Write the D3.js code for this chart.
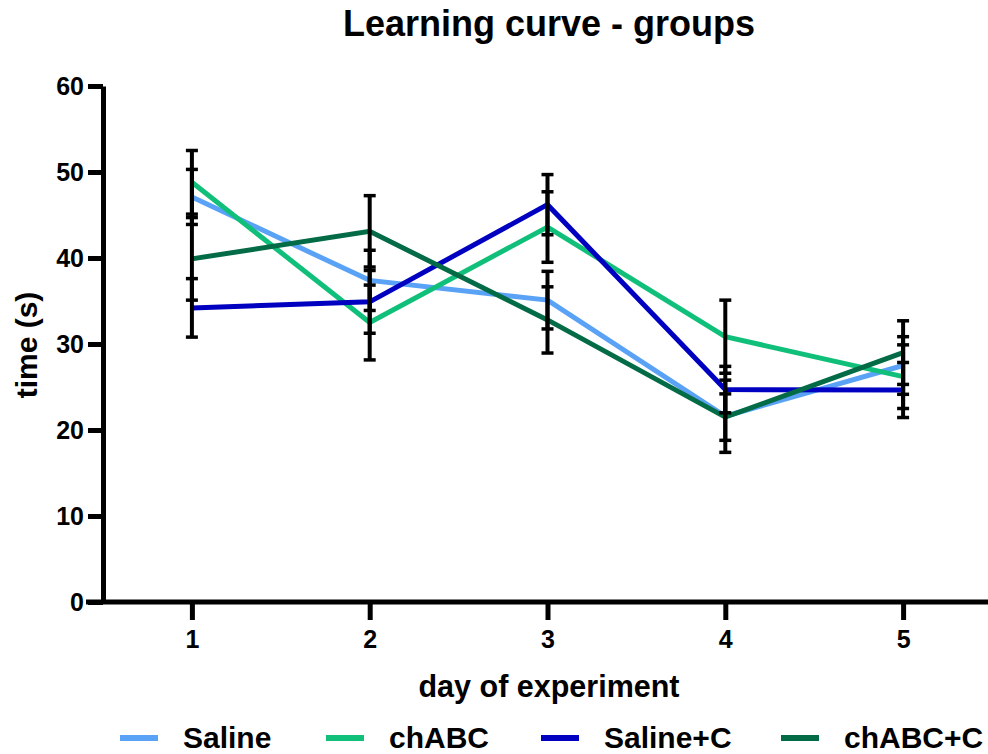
<!DOCTYPE html>
<html>
<head>
<meta charset="utf-8">
<script src="https://cdn.jsdelivr.net/npm/d3@7"></script>
<style>
body { margin: 0; background: #fff; }
text { font-family: "Liberation Sans", Arial, sans-serif; font-weight: bold; }
</style>
</head>
<body>
<div id="vis"></div>
<script>
var w = 988;
var h = 754;

// data
var days = [1, 2, 3, 4, 5];
var groups = ["Saline", "chABC", "Saline+C", "chABC+C"];
var colors = ["#5aa2f5", "#10c07a", "#0000c0", "#036b45"];
var salineMean = [47.1, 37.4, 35.1, 21.6, 27.5];
var salineSem = [3.2, 3.5, 3.35, 4.2, 3.35];
var chabcMean = [48.8, 32.5, 43.6, 30.85, 26.2];
var chabcSem = [3.7, 4.35, 4.1, 4.25, 3.7];
var salineCMean = [34.2, 34.9, 46.2, 24.7, 24.65];
var salineCSem = [3.4, 3.65, 3.5, 2.7, 3.2];
var chabcCMean = [39.9, 43.1, 32.8, 21.5, 29.0];
var chabcCSem = [4.8, 4.15, 3.85, 2.7, 3.7];
var yTicks = [0, 10, 20, 30, 40, 50, 60];

var means = [salineMean, chabcMean, salineCMean, chabcCMean];
var sems = [salineSem, chabcSem, salineCSem, chabcCSem];

var svg = d3.select("#vis")
    .append("svg")
    .attr("width", w)
    .attr("height", h);

var x = d3.scaleLinear().domain([0.5, 5.5]).range([103, 992]);
var y = d3.scaleLinear().domain([0, 60]).range([602, 86]);

// title
svg.append("text")
    .text("Learning curve - groups")
    .attr("x", 549)
    .attr("y", 36)
    .attr("text-anchor", "middle")
    .style("font-size", "36px");

// y axis
var yAxis = svg.append("g")
    .attr("transform", "translate(103,0)")
    .call(d3.axisLeft(y).tickValues(yTicks).tickSize(15).tickPadding(4).tickSizeOuter(0));
yAxis.select(".domain").attr("stroke-width", 5).attr("stroke", "#000");
yAxis.selectAll(".tick line").attr("stroke-width", 5).attr("stroke", "#000");
yAxis.selectAll(".tick text").style("font-size", "25px").attr("fill", "#000");

// x axis
var xAxis = svg.append("g")
    .attr("transform", "translate(0,602)")
    .call(d3.axisBottom(x).tickValues(days).tickSize(18).tickPadding(10).tickSizeOuter(0).tickFormat(d3.format("d")));
xAxis.select(".domain").attr("d", "M86,0H988").attr("stroke-width", 5).attr("stroke", "#000");
xAxis.selectAll(".tick line").attr("stroke-width", 5).attr("stroke", "#000");
xAxis.selectAll(".tick text").style("font-size", "25px").attr("fill", "#000");

// axis labels
svg.append("text")
    .text("day of experiment")
    .attr("x", 549)
    .attr("y", 697)
    .attr("text-anchor", "middle")
    .style("font-size", "30.5px");

svg.append("text")
    .text("time (s)")
    .attr("transform", "translate(37,345) rotate(-90)")
    .attr("text-anchor", "middle")
    .style("font-size", "30px");

// lines
var line = d3.line()
    .x(function(d, i) { return x(days[i]); })
    .y(function(d) { return y(d); });

groups.forEach(function(g, gi) {
    svg.append("path")
        .datum(means[gi])
        .attr("d", line)
        .attr("fill", "none")
        .attr("stroke", colors[gi])
        .attr("stroke-width", 5)
        .attr("stroke-linejoin", "miter");
});

// error bars
groups.forEach(function(g, gi) {
    var eb = svg.append("g").attr("class", "errbar");
    means[gi].forEach(function(m, i) {
        var cx = x(days[i]);
        var lo = y(m - sems[gi][i]);
        var hi = y(m + sems[gi][i]);
        eb.append("line")
            .attr("x1", cx).attr("x2", cx)
            .attr("y1", lo).attr("y2", hi)
            .attr("stroke", "#000").attr("stroke-width", 4);
        [lo, hi].forEach(function(yy) {
            eb.append("line")
                .attr("x1", cx - 6).attr("x2", cx + 6)
                .attr("y1", yy).attr("y2", yy)
                .attr("stroke", "#000").attr("stroke-width", 3.5);
        });
    });
});

// legend
var legX = [120, 326, 541, 781];
var legend = svg.selectAll(".legend")
    .data(groups)
    .enter()
    .append("g")
    .attr("class", "legend")
    .attr("transform", function(d, i) { return "translate(" + legX[i] + ",738)"; });
legend.append("line")
    .attr("x1", 0).attr("x2", 38)
    .attr("y1", 0).attr("y2", 0)
    .attr("stroke", function(d, i) { return colors[i]; })
    .attr("stroke-width", 6);
legend.append("text")
    .text(function(d) { return d; })
    .attr("x", 63)
    .attr("y", 10)
    .style("font-size", "30px");
</script>
</body>
</html>
